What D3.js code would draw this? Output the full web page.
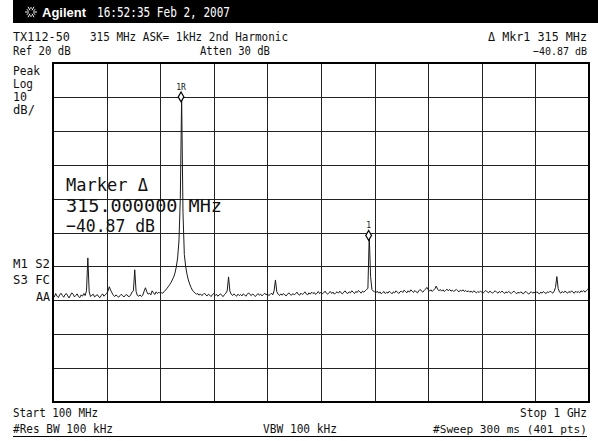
<!DOCTYPE html>
<html>
<head>
<meta charset="utf-8">
<script src="https://cdn.jsdelivr.net/npm/d3@7"></script>
<style>
  body { margin: 0; background: #fff; }
  svg { display: block; }
  text { font-family: "DejaVu Sans Mono", monospace; fill: #111; }
</style>
</head>
<body>
<div id="container"></div>
<script>
// Sweep settings
const startFreq = 100, stopFreq = 1000; // MHz
const refLevel = 20, dbPerDiv = 10, numDivs = 10;

// Trace, 401 points from 100 MHz to 1 GHz (dBm)
const traceDbm = [
  -48.5,-49,-48,-48.8,-49.2,-48.4,-47.9,-48.6,-49.1,-48.3,-48,-48.7,-49.3,-48.5,-47.8,-48.2,-49,-48.6,-48.1,-48.9,
  -49.2,-48.4,-48.8,-48,-48.6,-47.2,-37.5,-47.5,-48.9,-48.5,-48.2,-49,-48.7,-48.3,-48.9,-49.2,-48.6,-48.1,-48.8,-48.4,
  -48,-47.3,-46,-47,-47.8,-48.5,-48.9,-48.4,-48.8,-49.1,-48.6,-48.2,-48.7,-49,-48.5,-48.3,-48.8,-48.9,-48.4,-47.6,
  -47.2,-41,-47.4,-48.6,-48.8,-48.4,-48.9,-48.5,-47.3,-46.3,-47.5,-48.2,-47.9,-48.4,-47.2,-47.8,-48.3,-47.5,-48,-47.6,
  -48,-47.8,-47.9,-47.4,-47,-46.5,-46,-45.4,-44.8,-44,-43.2,-42,-40.2,-37.5,-32.5,-20,10,-24,-36.5,-40,
  -42.3,-44,-45.2,-46.2,-47,-47.5,-47.8,-48.2,-48,-48.5,-48.1,-48.6,-48.3,-47.9,-48.4,-48.7,-48.2,-48.5,-48.9,-48.3,
  -48,-48.6,-48.2,-48.8,-48.4,-48.1,-48.6,-48.9,-48.3,-47.9,-47.2,-43.1,-47.3,-48.2,-48.6,-48.1,-48.5,-48.8,-48.2,-48.6,
  -48.3,-48.7,-48.1,-48.4,-48.8,-48.2,-47.8,-48.3,-48.6,-48.1,-48.5,-48.9,-48.4,-48,-48.5,-48.2,-48.7,-48.3,-47.9,-48.4,
  -48.1,-48.6,-48.3,-47.9,-48.4,-47.2,-44,-47.4,-48.2,-48.6,-48.1,-48.5,-48,-48.4,-48.7,-48.2,-47.8,-48.3,-48.5,-48,
  -48.4,-48.1,-47.6,-48.2,-48.5,-47.9,-48.3,-48,-47.5,-48.1,-48.4,-47.8,-48.2,-47.6,-48,-47.7,-48.3,-47.9,-47.4,-48,
  -47.6,-48.1,-47.8,-47.3,-47.9,-48.2,-47.7,-47.4,-48,-47.6,-48.2,-47.8,-47.5,-47.9,-47.3,-47.8,-48.1,-47.6,-47.2,-47.8,
  -48,-47.5,-47.8,-47.2,-47.6,-48,-47.4,-47.7,-47.1,-47.5,-47.9,-47.3,-47.6,-47.2,-46.8,-46.5,-30.9,-43,-46.8,-47.3,
  -47.5,-47.8,-47.3,-47.9,-47.5,-48.1,-47.7,-47.4,-48,-47.6,-47.9,-47.3,-47.7,-48.1,-47.5,-47.8,-47.2,-47.6,-48,-47.5,
  -47.3,-47.7,-47,-47.4,-47.8,-47.2,-47.6,-46.9,-47.3,-47.7,-47.1,-47.5,-47.8,-47.2,-46.8,-47.3,-47.6,-47.1,-46.7,-46.2,
  -46.8,-47.3,-46.9,-47.4,-47,-46.6,-45.8,-46.7,-47.2,-46.8,-47.3,-46.9,-47.4,-47.1,-46.7,-47.2,-46.8,-47.3,-47,-47.4,
  -47.1,-46.8,-47.2,-47.5,-47,-47.3,-46.9,-47.4,-47.1,-47.5,-47.2,-47.6,-47.3,-47.7,-47.2,-47.5,-47.8,-47.4,-47.7,-47.3,
  -47.6,-47.9,-47.4,-47.1,-47.5,-47.8,-47.3,-47.6,-47.9,-47.5,-47.2,-47.6,-47.9,-47.4,-47.7,-47.3,-47.6,-48,-47.5,-47.8,
  -47.4,-47.7,-48,-47.6,-47.3,-47.7,-48.1,-47.6,-47.9,-47.5,-47.8,-48.1,-47.6,-47.4,-47.8,-48.2,-47.7,-47.5,-47.9,-47.6,
  -47.9,-47.5,-47.8,-48.1,-47.6,-47.9,-47.4,-47.8,-48,-47.5,-47.7,-47.3,-47.6,-47.9,-47.3,-46.2,-43,-46.5,-47.6,-47.9,
  -47.4,-47.8,-47.3,-47.6,-47.9,-47.4,-47.7,-47.2,-47.6,-47.9,-47.3,-47.7,-47.4,-47.8,-47.2,-47.5,-47.1,-47.6,-47.2,-46.8,
  -46.2
];

// Markers: reference marker and delta marker
const markerLabels = ["1R", "1"];
const markerFreqs = [315, 630];       // MHz
const markerLevels = [10.0, -30.87];  // dBm

// Text annotations
const headerTime = "16:52:35 Feb 2, 2007";
const leftLabels = ["Peak", "Log", "10", "dB/"];
const leftLabelWidths = [27, 20, 14, 22];
const statusLabels = ["M1 S2", "S3 FC"];
const markerReadout = ["Marker \u0394", "315.000000 MHz", "\u221240.87 dB"];

const width = 598, height = 441;
const plot = { left: 53, right: 589, top: 63, bottom: 402 };

const svg = d3.select("#container")
  .append("svg")
  .attr("width", width)
  .attr("height", height);

// Scales
const x = d3.scaleLinear().domain([startFreq, stopFreq]).range([plot.left, plot.right]);
const y = d3.scaleLinear()
  .domain([refLevel - dbPerDiv * numDivs, refLevel])
  .range([plot.bottom, plot.top]);

const freqStep = (stopFreq - startFreq) / (traceDbm.length - 1);
const trace = traceDbm.map((d, i) => ({ f: startFreq + i * freqStep, v: d }));

// Header bar
svg.append("rect")
  .attr("x", 13).attr("y", 0)
  .attr("width", width - 13).attr("height", 23)
  .attr("fill", "#000");

// little Agilent spark
const spark = svg.append("g").attr("transform", "translate(31,12)");
d3.range(0, 360, 30).forEach(a => {
  const r = a * Math.PI / 180;
  const r0 = a % 60 === 0 ? 2 : 3;
  const r1 = a % 60 === 0 ? 6 : 5;
  spark.append("line")
    .attr("x1", r0 * Math.cos(r)).attr("y1", r0 * Math.sin(r))
    .attr("x2", r1 * Math.cos(r)).attr("y2", r1 * Math.sin(r))
    .attr("stroke", "#fff").attr("stroke-width", 1);
});

svg.append("text")
  .attr("x", 42).attr("y", 17)
  .style("font-family", "'Liberation Sans', Arial, sans-serif")
  .style("font-weight", "bold").style("font-size", "13px")
  .style("fill", "#fff")
  .text("Agilent");

svg.append("text")
  .attr("x", 97).attr("y", 17)
  .attr("textLength", 133).attr("lengthAdjust", "spacingAndGlyphs")
  .style("font-size", "14px").style("fill", "#fff")
  .text(headerTime);

// helper for small instrument text
function label(str, xPos, yPos, opts = {}) {
  const t = svg.append("text")
    .attr("x", xPos).attr("y", yPos)
    .style("font-size", (opts.size || 12.5) + "px")
    .attr("text-anchor", opts.anchor || "start")
    .text(str);
  if (opts.len) t.attr("textLength", opts.len).attr("lengthAdjust", "spacingAndGlyphs");
  return t;
}

label("TX112-50", 13, 41, { len: 57 });
label("315 MHz ASK= 1kHz 2nd Harmonic", 90, 41, { len: 198, size: 12 });
label("\u0394 Mkr1  315 MHz", 587, 41, { anchor: "end", len: 99, size: 12 });
label("\u221240.87 dB", 587, 55, { anchor: "end", len: 54, size: 11 });
label("Atten 30 dB", 200, 55, { len: 70 });

// Ref level text is cut by the graticule
svg.append("clipPath").attr("id", "refclip")
  .append("rect").attr("x", 0).attr("y", 40).attr("width", 71).attr("height", 22);
label("Ref 20 dBm", 13, 55, { len: 64 }).attr("clip-path", "url(#refclip)");

leftLabels.forEach((d, i) => label(d, 13, 75 + i * 13, { len: leftLabelWidths[i], size: 11.5 }));
statusLabels.forEach((d, i) => label(d, 13, 268 + i * 16, { len: 37 }));
label("AA", 50, 301, { anchor: "end", len: 14 });

// Graticule
const grid = svg.append("g");
grid.selectAll(".vline")
  .data(d3.range(1, numDivs).map(i => startFreq + i * (stopFreq - startFreq) / numDivs))
  .join("line")
  .attr("class", "vline")
  .attr("x1", d => Math.round(x(d)) + 0.5).attr("x2", d => Math.round(x(d)) + 0.5)
  .attr("y1", plot.top).attr("y2", plot.bottom)
  .attr("stroke", "#222").attr("stroke-width", 1);

grid.selectAll(".hline")
  .data(d3.range(1, numDivs).map(i => refLevel - i * dbPerDiv))
  .join("line")
  .attr("class", "hline")
  .attr("x1", plot.left).attr("x2", plot.right)
  .attr("y1", d => Math.round(y(d)) + 0.5).attr("y2", d => Math.round(y(d)) + 0.5)
  .attr("stroke", "#222").attr("stroke-width", 1);

grid.append("rect")
  .attr("x", plot.left).attr("y", plot.top)
  .attr("width", plot.right - plot.left).attr("height", plot.bottom - plot.top)
  .attr("fill", "none").attr("stroke", "#000").attr("stroke-width", 2);

// Big marker readout
markerReadout.forEach((d, i) => {
  svg.append("text")
    .attr("x", 66).attr("y", 191 + i * 20.5)
    .style("font-size", "18px")
    .attr("textLength", [82, 156, 89][i]).attr("lengthAdjust", "spacingAndGlyphs")
    .text(d);
});

// Trace
const line = d3.line()
  .x(d => x(d.f))
  .y(d => y(d.v));

svg.append("path")
  .datum(trace)
  .attr("d", line)
  .attr("fill", "none")
  .attr("stroke", "#1a1a1a")
  .attr("stroke-width", 1)
  .attr("stroke-linejoin", "round");

// Marker diamonds
const markers = markerLabels.map((d, i) => ({ label: d, f: markerFreqs[i], v: markerLevels[i] }));

svg.selectAll(".mk")
  .data(markers)
  .join("path")
  .attr("class", "mk")
  .attr("d", d3.symbol(d3.symbolDiamond, 28))
  .attr("transform", d => `translate(${x(d.f)},${y(d.v)})`)
  .attr("fill", "#fff")
  .attr("stroke", "#000")
  .attr("stroke-width", 1.2);

svg.selectAll(".mklabel")
  .data(markers)
  .join("text")
  .attr("class", "mklabel")
  .attr("x", d => x(d.f))
  .attr("y", d => y(d.v) - 7)
  .attr("text-anchor", "middle")
  .style("font-size", "8px")
  .text(d => d.label);

// Footer
label("Start 100 MHz", 13, 417, { len: 85 });
label("Stop 1 GHz", 587, 417, { anchor: "end", len: 67, size: 12 });
label("#Res BW 100 kHz", 13, 433, { len: 100 });
label("VBW 100 kHz", 263, 433, { len: 74 });
label("#Sweep 300 ms (401 pts)", 587, 433, { anchor: "end", len: 154, size: 11 });

svg.append("line")
  .attr("x1", 13).attr("x2", 587)
  .attr("y1", 436.5).attr("y2", 436.5)
  .attr("stroke", "#000").attr("stroke-width", 1);
</script>
</body>
</html>
